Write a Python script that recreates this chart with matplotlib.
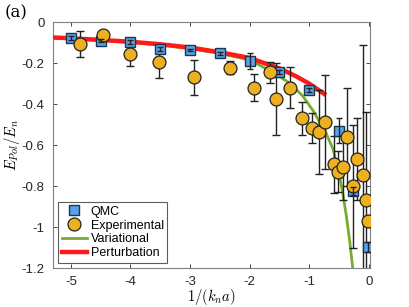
import matplotlib
matplotlib.use("Agg")
import matplotlib.pyplot as plt
import numpy as np

plt.rcParams['font.family'] = ['Liberation Sans', 'DejaVu Sans']
plt.rcParams['mathtext.fontset'] = 'cm'

# QMC data
qmc_x = [-5.0, -4.5, -4.0, -3.5, -3.0, -2.5, -2.0, -1.5, -1.0, -0.5, -0.27, -0.013]
qmc_y = [-0.077, -0.09, -0.097, -0.13, -0.136, -0.152, -0.19, -0.243, -0.33, -0.53, -0.825, -1.097]
qmc_err = [0.008, 0.006, 0.008, 0.01, 0.005, 0.008, 0.04, 0.008, 0.01, 0.06, 0.02, 0.025]

# Experimental data
exp_x = [-4.84, -4.46, -4.0, -3.52, -2.94, -2.33, -1.93, -1.66, -1.55, -1.33, -1.12,
         -0.96, -0.84, -0.74, -0.59, -0.52, -0.43, -0.37, -0.26, -0.19, -0.10, -0.05, -0.013]
exp_y = [-0.106, -0.064, -0.154, -0.194, -0.27, -0.222, -0.32, -0.245, -0.375, -0.32, -0.47,
         -0.518, -0.536, -0.487, -0.694, -0.73, -0.705, -0.56, -0.80, -0.666, -0.744, -0.87, -0.97]
exp_err = [0.065, 0.01, 0.058, 0.08, 0.085, 0.03, 0.065, 0.05, 0.177, 0.1, 0.08,
           0.073, 0.207, 0.228, 0.14, 0.1, 0.165, 0.24, 0.3, 0.2, 0.63, 0.43, 0.01]

# Variational curve
var_x = [-5.3, -5.0, -4.5, -4.0, -3.5, -3.0, -2.5, -2.0, -1.67, -1.33, -1.11, -0.94,
         -0.8, -0.72, -0.6, -0.48, -0.44, -0.38, -0.32, -0.27]
var_y = [-0.077, -0.081, -0.089, -0.099, -0.112, -0.13, -0.153, -0.185, -0.235, -0.297,
         -0.36, -0.43, -0.5, -0.54, -0.62, -0.768, -0.83, -0.94, -1.07, -1.2]

# Perturbation curve
per_x = [-5.3, -5.0, -4.5, -4.0, -3.5, -3.0, -2.5, -2.0, -1.5, -1.25, -1.0, -0.75]
per_y = [-0.075, -0.079, -0.087, -0.096, -0.108, -0.124, -0.147, -0.175, -0.226, -0.26, -0.30, -0.35]

xticks = [-5, -4, -3, -2, -1, 0]
yticks = [0, -0.2, -0.4, -0.6, -0.8, -1.0, -1.2]
ytick_labels = ['0', '-0.2', '-0.4', '-0.6', '-0.8', '-1', '-1.2']

fig = plt.figure(figsize=(4.09, 3.07), dpi=100)
ax = fig.add_axes([0.1296, 0.127, 0.775, 0.801])

green = '#77AC30'
red = '#FF1A1A'
blue = '#5AA2E8'
orange = '#EDB120'

l_var, = ax.plot(var_x, var_y, color=green, lw=2.0, zorder=2, label='Variational')
l_per, = ax.plot(per_x, per_y, color=red, lw=3.2, zorder=3, label='Perturbation')

ax.errorbar(exp_x, exp_y, yerr=exp_err, fmt='none', ecolor='#222222', elinewidth=1.0,
            capsize=3, capthick=1.0, zorder=4)
ax.errorbar(qmc_x, qmc_y, yerr=qmc_err, fmt='none', ecolor='#222222', elinewidth=1.0,
            capsize=2.5, capthick=1.0, zorder=6)
l_qmc, = ax.plot(qmc_x, qmc_y, 's', ms=7.3, mfc=blue, mec='#1a3550', mew=1.0, zorder=5,
                 label='QMC', linestyle='none')
l_exp, = ax.plot(exp_x, exp_y, 'o', ms=9.3, mfc=orange, mec='#222222', mew=0.9, zorder=5,
                 label='Experimental', linestyle='none')

ax.set_xlim(-5.3, 0.02)
ax.set_ylim(-1.2, 0)
ax.set_xticks(xticks)
ax.set_xticklabels([str(t) for t in xticks])
ax.set_yticks(yticks)
ax.set_yticklabels(ytick_labels)
ax.tick_params(direction='in', top=True, right=True, length=3, width=0.6,
               labelsize=9.5, colors='#262626', pad=6)
for s in ax.spines.values():
    s.set_color('#808080')
    s.set_linewidth(0.8)

ax.set_xlabel('$1/(k_n a)$', fontsize=10.5, labelpad=-1)
ax.set_ylabel('$E_{Pol}/E_n$', fontsize=10.5, labelpad=0)

leg = ax.legend(handles=[l_qmc, l_exp, l_var, l_per], loc='lower left', fontsize=9,
                frameon=True, fancybox=False, edgecolor='#333333', borderpad=0.3,
                labelspacing=0.15, handlelength=2.0, handletextpad=0.3,
                borderaxespad=0.4)
leg.get_frame().set_linewidth(0.8)

fig.text(0.012, 0.945, '(a)', fontsize=12, family='DejaVu Serif')

fig.savefig('out.png', dpi=100)
